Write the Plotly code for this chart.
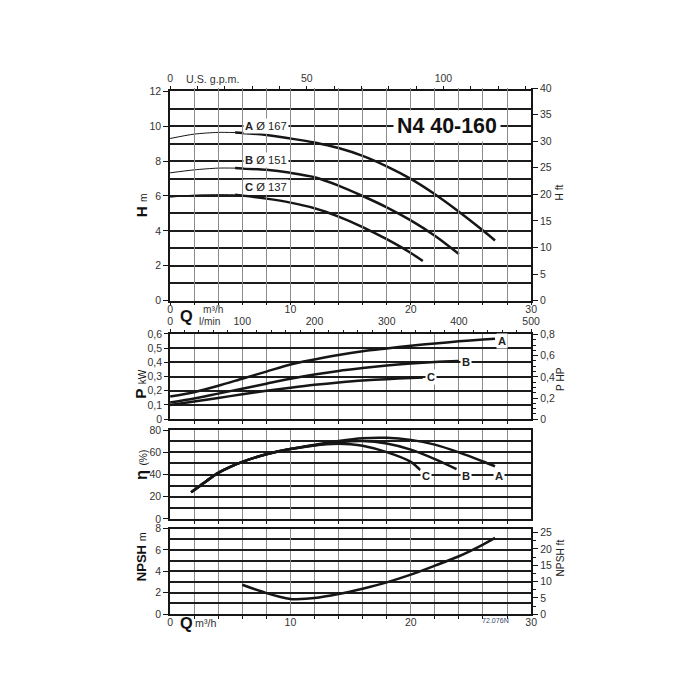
import plotly.graph_objects as go

# ---------------- data ----------------
# Head curves (Q m3/h, H m)
Q_H_A = [0, 2, 4, 5.4, 6, 8, 10, 12, 14, 16, 18, 20, 22, 24, 26, 27]
H_A = [9.3, 9.55, 9.65, 9.64, 9.62, 9.5, 9.3, 9.07, 8.75, 8.3, 7.7, 6.98, 6.1, 5.1, 4.02, 3.45]
Q_H_B = [0, 2, 4, 5.4, 6, 8, 10, 12, 14, 16, 18, 20, 22, 24]
H_B = [7.33, 7.5, 7.6, 7.6, 7.58, 7.5, 7.33, 7.08, 6.6, 6.0, 5.35, 4.6, 3.72, 2.67]
Q_H_C = [0, 2, 4, 5.4, 6, 8, 10, 12, 14, 16, 18, 20, 21]
H_C = [5.93, 6.05, 6.08, 6.07, 6.03, 5.85, 5.62, 5.3, 4.82, 4.22, 3.52, 2.73, 2.27]
THICK_FROM = 5.4

# Power curves (Q m3/h, P kW)
Q_P_A = [0, 2, 4, 6, 8, 10, 12, 14, 16, 18, 20, 22, 24, 26, 27]
P_A = [0.16, 0.19, 0.235, 0.285, 0.335, 0.385, 0.42, 0.452, 0.478, 0.498, 0.517, 0.533, 0.548, 0.561, 0.567]
Q_P_B = [0, 2, 4, 6, 8, 10, 12, 14, 16, 18, 20, 22, 24]
P_B = [0.117, 0.145, 0.18, 0.215, 0.25, 0.285, 0.315, 0.34, 0.36, 0.378, 0.392, 0.403, 0.41]
Q_P_C = [0, 2, 4, 6, 8, 10, 12, 14, 16, 18, 20, 21]
P_C = [0.1, 0.125, 0.15, 0.175, 0.2, 0.222, 0.242, 0.258, 0.272, 0.282, 0.29, 0.293]

# Efficiency curves (Q m3/h, eta %)
Q_E_A = [1.75, 2.5, 3, 4, 5, 6, 8, 10, 12, 14, 16, 18, 20, 22, 24, 26, 27]
E_A = [24, 30, 34, 41.5, 47, 51.5, 58.3, 63, 66.8, 70.3, 72.8, 73.2, 71.3, 67.0, 60.0, 51.8, 47.5]
Q_E_B = [1.75, 2.5, 3, 4, 5, 6, 8, 10, 12, 14, 16, 18, 20, 22, 23.8]
E_B = [24, 30, 34, 41.5, 47, 51.5, 58.3, 63, 66.5, 69.2, 70.2, 68.0, 62.5, 54.0, 45.0]
Q_E_C = [1.75, 2.5, 3, 4, 5, 6, 8, 10, 12, 13, 14, 15, 16, 18, 20, 20.8]
E_C = [24, 30, 34, 41.5, 47, 51.5, 58.3, 63, 66.3, 67.3, 67.7, 67.3, 66.0, 60.3, 51.5, 44.0]

# NPSH curve (Q m3/h, NPSH m)
Q_N = [6, 8, 10, 10.5, 12, 14, 16, 18, 20, 22, 24, 26, 27]
NPSH = [2.75, 1.97, 1.42, 1.4, 1.5, 1.88, 2.38, 2.97, 3.69, 4.53, 5.41, 6.5, 7.13]

CURVE_NAMES = ["A", "B", "C"]
DIAMETERS = ["167", "151", "137"]
H_LABEL_POS = [(8.0, 10.0), (8.0, 8.05), (8.0, 6.5)]
P_LABEL_POS = [(27.6, 0.55), (24.6, 0.40), (21.7, 0.30)]
E_LABEL_POS = [(27.3, 39), (24.6, 39), (21.3, 39)]
TITLE = "N4 40-160"
DRAWING_CODE = "72.076N"

# unit conversions for secondary scales
M3H_PER_GPM = 0.2271247
M_PER_FT = 0.3048
KW_PER_HP = 0.7457

# ---------------- layout geometry ----------------
W = H = 700
# observed page-to-photo mapping (photo = offset + scale * page)
SX, OX, OY = 0.98, 3.4, 6.3


def px(p):
    return ((p - OX) / SX) / W


def py(p):
    return 1 - ((p - OY) / SX) / H


def fs(s):
    return round(s / SX, 1)


X0, X1 = px(170), px(530)
D_H = [py(300), py(91.5)]
D_P = [py(418.3), py(333.3)]
D_E = [py(517.7), py(429.3)]
D_N = [py(612.7), py(527.3)]

INK = "#161616"
GRID_V = "#8c8c8c"
GRID_H = "#1c1c1c"
FONT = "Liberation Sans, Arial, sans-serif"
TICKF = dict(family=FONT, size=fs(10.3), color="#333333")

fig = go.Figure()


def curve(q, v, xa, ya, width=2.5):
    fig.add_trace(go.Scatter(
        x=q, y=v, xaxis=xa, yaxis=ya, mode="lines",
        line=dict(color=INK, width=width, shape="spline", smoothing=0.8),
        hoverinfo="skip", showlegend=False))


def ghost(xa, ya, xv, yv):
    fig.add_trace(go.Scatter(x=[xv], y=[yv], xaxis=xa, yaxis=ya, mode="markers",
                             marker=dict(opacity=0, size=1), hoverinfo="skip",
                             showlegend=False))


# head curves: thin before THICK_FROM, thick after
for q, h in ((Q_H_A, H_A), (Q_H_B, H_B), (Q_H_C, H_C)):
    tq = [a for a in q if a <= THICK_FROM]
    th = [b for a, b in zip(q, h) if a <= THICK_FROM]
    kq = [a for a in q if a >= THICK_FROM]
    kh = [b for a, b in zip(q, h) if a >= THICK_FROM]
    curve(tq, th, "x", "y", width=1.0)
    curve(kq, kh, "x", "y", width=2.5)

for q, p in ((Q_P_A, P_A), (Q_P_B, P_B), (Q_P_C, P_C)):
    curve(q, p, "x2", "y2")

for q, e in ((Q_E_A, E_A), (Q_E_B, E_B), (Q_E_C, E_C)):
    curve(q, e, "x3", "y3")

curve(Q_N, NPSH, "x4", "y4")

# ghost traces so secondary axes are drawn
ghost("x5", "y", 0, 0)
ghost("x", "y5", 0, 0)
ghost("x6", "y2", 0, 0)
ghost("x2", "y6", 0, 0)
ghost("x4", "y7", 0, 0)

frame = dict(showline=True, linecolor=INK, linewidth=1.8, mirror=True, zeroline=False)
xgrid = dict(showgrid=True, gridcolor=GRID_V, gridwidth=1.4, dtick=10, tick0=0,
             minor=dict(dtick=2, showgrid=True, gridcolor=GRID_V, gridwidth=1.4))


def ygrid(major, minor):
    return dict(showgrid=True, gridcolor=GRID_H, gridwidth=1.5, dtick=major, tick0=0,
                minor=dict(dtick=minor, showgrid=True, gridcolor=GRID_H, gridwidth=1.5),
                ticks="outside", ticklen=5, tickcolor=INK, tickfont=TICKF)


layout = dict(
    width=W, height=H, autosize=False,
    margin=dict(l=0, r=0, t=0, b=0),
    paper_bgcolor="white", plot_bgcolor="rgba(0,0,0,0)",
    separators=", ",
    font=dict(family=FONT, color="#333333"),
    showlegend=False,
)

# top panel: H
layout["xaxis"] = dict(domain=[X0, X1], range=[0, 30], anchor="y", **frame, **xgrid,
                       ticks="outside", ticklen=3, tickcolor=INK, tickfont=TICKF,
                       ticklabelstandoff=-5)
layout["xaxis"]["minor"].update(ticks="outside", ticklen=3, tickcolor=INK)
layout["yaxis"] = dict(domain=D_H, range=[0, 12], anchor="x", **frame, **ygrid(2, 1))
ft_top = D_H[0] + (D_H[1] - D_H[0]) * 40 * M_PER_FT / 12
layout["yaxis5"] = dict(domain=[D_H[0], ft_top], range=[0, 40], anchor="x", side="right",
                        showline=True, linecolor=INK, linewidth=1.5, showgrid=False,
                        zeroline=False, dtick=5, ticks="outside", ticklen=5,
                        tickcolor=INK, tickfont=TICKF)
layout["xaxis5"] = dict(overlaying="x", side="top", anchor="y", range=[0, 30 / M3H_PER_GPM],
                        showgrid=False, zeroline=False, showline=False,
                        tickvals=[0, 50, 100], ticks="outside", ticklen=4, tickcolor=INK,
                        tickfont=TICKF,
                        minor=dict(dtick=10, tick0=0, ticks="outside", ticklen=4, tickcolor=INK))

# power panel
layout["xaxis2"] = dict(domain=[X0, X1], range=[0, 30], anchor="y2", **frame, **xgrid,
                        showticklabels=False, ticks="")
layout["yaxis2"] = dict(domain=D_P, range=[0, 0.6], anchor="x2", **frame,
                        showgrid=True, gridcolor=GRID_H, gridwidth=1.5, dtick=0.1, tick0=0,
                        tickformat="~g", ticks="outside", ticklen=4, tickcolor=INK,
                        tickfont=TICKF)
layout["yaxis6"] = dict(overlaying="y2", side="right", anchor="x2",
                        range=[0, 0.6 / KW_PER_HP], showgrid=False, zeroline=False,
                        showline=True, linecolor=INK, linewidth=1.8,
                        dtick=0.2, tick0=0, tickformat="~g", ticks="outside", ticklen=5,
                        tickcolor=INK, tickfont=TICKF,
                        minor=dict(dtick=0.05, tick0=0, ticks="outside", ticklen=3,
                                   tickcolor=INK))
layout["xaxis6"] = dict(overlaying="x2", side="top", anchor="y2", range=[0, 500],
                        showgrid=False, zeroline=False, showline=False,
                        dtick=100, tick0=0, ticks="outside", ticklen=4, tickcolor=INK,
                        tickfont=TICKF,
                        minor=dict(dtick=20, tick0=0, ticks="outside", ticklen=3,
                                   tickcolor=INK))

# efficiency panel
layout["xaxis3"] = dict(domain=[X0, X1], range=[0, 30], anchor="y3", **frame, **xgrid,
                        showticklabels=False, ticks="")
layout["yaxis3"] = dict(domain=D_E, range=[0, 80], anchor="x3", **frame, **ygrid(20, 10))

# NPSH panel
layout["xaxis4"] = dict(domain=[X0, X1], range=[0, 30], anchor="y4", **frame, **xgrid,
                        ticks="", tickfont=TICKF, ticklabelstandoff=-3)
layout["yaxis4"] = dict(domain=D_N, range=[0, 8], anchor="x4", **frame, **ygrid(2, 1))
layout["yaxis7"] = dict(overlaying="y4", side="right", anchor="x4",
                        range=[0, 8 / M_PER_FT], showgrid=False, zeroline=False,
                        showline=True, linecolor=INK, linewidth=1.8,
                        dtick=5, tick0=0, ticks="outside", ticklen=5, tickcolor=INK,
                        tickfont=TICKF,
                        minor=dict(dtick=2.5, tick0=0, ticks="outside", ticklen=3,
                                   tickcolor=INK))

fig.update_layout(**layout)

# ---------------- annotations ----------------
anns = []


def ann(text, x, y, xref="paper", yref="paper", size=11, color="#222222", bg=None,
        angle=0, pad=1, xanchor="center", yanchor="middle"):
    d = dict(text=text, x=x, y=y, xref=xref, yref=yref, showarrow=False,
             font=dict(family=FONT, size=fs(size), color=color), textangle=angle,
             xanchor=xanchor, yanchor=yanchor, borderpad=pad)
    if bg:
        d["bgcolor"] = bg
    anns.append(d)


for name, dia, (qx, hy) in zip(CURVE_NAMES, DIAMETERS, H_LABEL_POS):
    ann(f"<b>{name}</b> Ø {dia}", qx, hy, "x", "y", size=11, bg="white", pad=1)
for name, (qx, pv) in zip(CURVE_NAMES, P_LABEL_POS):
    ann(f"<b>{name}</b>", qx, pv, "x2", "y2", size=11, bg="white", pad=1)
for name, (qx, ev) in zip(CURVE_NAMES, E_LABEL_POS):
    ann(f"<b>{name}</b>", qx, ev, "x3", "y3", size=11, bg="white", pad=1)

ann(f"<b>{TITLE}</b>", px(446), py(125.5), size=21, color="#111111", bg="white", pad=3)
ann("U.S. g.p.m.", px(212), py(79), size=10.5, color="#333333")

# Q labels under top panel
ann("<b>Q</b>", px(186), py(315), size=16, color="#111111")
ann("m³/h", px(213), py(309), size=10, color="#333333")
ann("l/min", px(210), py(321), size=10, color="#333333")
ann("<b>Q</b>", px(186), py(622), size=16, color="#111111")
ann("m³/h", px(205), py(622), size=10.5, color="#333333")
ann(DRAWING_CODE, px(494), py(620), size=7, color="#3a4a6a")

# left axis titles
ann(f"<b>H</b> <span style='font-size:{fs(10)}px'>m</span>", px(141), py(205), size=15,
    color="#111111", angle=-90)
ann(f"<b>P</b> <span style='font-size:{fs(10)}px'>kW</span>", px(141), py(383), size=15,
    color="#111111", angle=-90)
ann(f"<b>η</b> <span style='font-size:{fs(10)}px'>(%)</span>", px(141), py(464), size=16,
    color="#111111", angle=-90)
ann(f"<b>NPSH</b> <span style='font-size:{fs(10.5)}px'>m</span>", px(141), py(556),
    size=12.8, color="#111111", angle=-90)

# right axis titles
ann("H ft", px(558), py(192), size=10, color="#222222", angle=-90)
ann("P HP", px(560), py(378), size=10, color="#222222", angle=-90)
ann("NPSH ft", px(559), py(557), size=10, color="#222222", angle=-90)

fig.update_layout(annotations=anns)

fig.write_html("out.html", config={"displayModeBar": False},
               post_script="document.body.style.margin='0';")
